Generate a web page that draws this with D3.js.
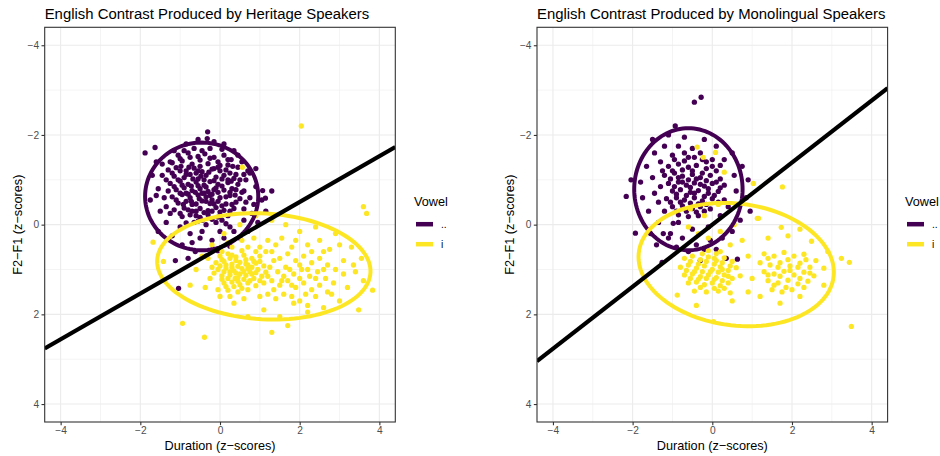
<!DOCTYPE html>
<html><head><meta charset="utf-8">
<script src="https://cdn.jsdelivr.net/npm/d3@7"></script>
<style>body{margin:0;background:#fff}svg{display:block}text{font-family:"Liberation Sans",Arial,sans-serif}</style>
</head><body><svg id="c" width="940" height="456"></svg>
<script>
// ---------- DATA ----------
const titles = ["English Contrast Produced by Heritage Speakers","English Contrast Produced by Monolingual Speakers"];
const vowels = ["..","i"];
const vowelColors = ["#440154","#FDE725"];
const xTicks = [-4,-2,0,2,4];
const yTicks = [-4,-2,0,2,4];
const minorTicks = [-3,-1,1,3];
const xLabel = "Duration (z\u2212scores)";
const yLabel = "F2\u2212F1 (z\u2212scores)";

// Heritage, vowel ".."
const heritageA = [[-0.31,-2.07],[-0.32,-1.92],[-1.88,-1.6],[-1.63,-1.72],[-1.45,-1.35],[-1.7,-1.1],[-1.55,-0.8],[-1.75,-0.55],[-1.5,-0.3],[-1.35,-0.05],[-1.2,0.25],[-0.95,0.45],[-1.12,0.8],[-1.04,1.42],[-0.62,0.6],[-0.35,0.7],[-0.05,0.58],[0.25,0.48],[0.5,0.3],[0.7,0.15],[0.95,-0.05],[1.15,-0.3],[1.05,-0.55],[0.9,-0.85],[0.75,-1.15],[0.55,-1.4],[0.35,-1.65],[0.1,-1.8],[-0.15,-1.85],[-0.55,-1.9],[-0.85,-1.8],[-1.15,-1.65],[0.32,-1.3],[0.65,-1.0],[0.85,-0.45],[0.6,-0.1],[0.35,0.15],[0.1,0.3],[-0.2,0.35],[-0.5,0.3],[-0.75,0.2],[-1.0,0.05],[-1.25,-0.25],[-1.4,-0.6],[-1.35,-1.0],[-1.25,-1.4],[1.3,-0.75],[0.6,-0.75],[-0.8,0.75],[-1.55,0.15],[0.9,-1.25],[1.07,-0.76],[1.14,-0.59],
[-1.05,-1.55],[-0.8,-1.6],[-0.55,-1.52],[-0.38,-1.58],[-0.15,-1.5],[0.1,-1.55],[0.28,-1.45],
[-1.2,-1.38],[-0.95,-1.42],[-0.7,-1.35],[-0.5,-1.44],[-0.3,-1.36],[-0.05,-1.4],[0.2,-1.33],[0.45,-1.28],
[-1.3,-1.22],[-1.1,-1.27],[-0.85,-1.2],[-0.65,-1.26],[-0.45,-1.18],[-0.2,-1.24],[0.0,-1.2],[0.25,-1.15],
[-1.15,-1.08],[-0.9,-1.05],[-0.75,-1.12],[-0.55,-1.02],[-0.35,-1.1],[-0.1,-1.06],[0.1,-1.1],[0.35,-1.03],[0.6,-1.12],
[-1.25,-0.92],[-1.0,-0.97],[-0.8,-0.9],[-0.6,-0.95],[-0.4,-0.88],[-0.25,-0.96],[-0.05,-0.9],[0.2,-0.94],[0.45,-0.9],
[-1.1,-0.78],[-0.9,-0.82],[-0.7,-0.76],[-0.5,-0.8],[-0.3,-0.74],[-0.1,-0.82],[0.1,-0.77],[0.3,-0.8],[0.55,-0.72],
[-1.2,-0.62],[-0.95,-0.67],[-0.75,-0.6],[-0.55,-0.66],[-0.35,-0.62],[-0.2,-0.68],[0.0,-0.6],[0.25,-0.65],[0.5,-0.58],
[-1.05,-0.48],[-0.85,-0.52],[-0.6,-0.46],[-0.45,-0.53],[-0.25,-0.47],[-0.05,-0.52],[0.15,-0.46],[0.4,-0.5],
[-1.15,-0.33],[-0.9,-0.37],[-0.7,-0.3],[-0.5,-0.36],[-0.3,-0.31],[-0.1,-0.38],[0.1,-0.32],[0.35,-0.36],
[-0.95,-0.18],[-0.75,-0.22],[-0.5,-0.16],[-0.3,-0.22],[-0.05,-0.17],[0.2,-0.2],
[-0.85,-0.04],[-0.55,-0.08],[-0.35,0.0],[-0.1,-0.05],[0.15,-0.02],
[-0.65,-1.7],[-0.25,-1.7],[0.05,-1.68],[-1.45,-1.1],[-1.0,-1.2],[-0.6,-1.15],[-0.45,-0.7],[-0.85,-0.7],[-0.15,-1.25],[-0.4,-1.0],[-0.7,-0.45],[0.2,-1.0],[-0.2,-0.55],[-0.6,-0.2],[0.6,-0.35],[0.75,-0.6],[-0.45,0.15],[-0.7,0.4],[0.0,0.15],[0.25,0.05],
[-1.0,-1.47],[-0.75,-1.5],[-0.5,-1.3],[-0.25,-1.48],[0.0,-1.32],[0.2,-1.45],
[-1.2,-1.15],[-0.98,-1.3],[-0.78,-1.28],[-0.55,-1.2],[-0.28,-1.17],[-0.05,-1.28],[0.15,-1.22],[0.4,-1.12],
[-1.05,-1.0],[-0.85,-1.12],[-0.68,-1.02],[-0.48,-1.08],[-0.15,-0.98],[0.05,-1.02],[0.28,-0.97],[0.5,-1.0],
[-1.15,-0.85],[-0.95,-0.88],[-0.72,-0.86],[-0.55,-0.87],[-0.35,-0.84],[-0.15,-0.78],[0.05,-0.86],[0.25,-0.72],[0.4,-0.78],
[-1.0,-0.7],[-0.8,-0.68],[-0.62,-0.72],[-0.4,-0.7],[-0.25,-0.65],[-0.05,-0.72],[0.15,-0.62],[0.38,-0.66],
[-1.1,-0.55],[-0.92,-0.45],[-0.72,-0.52],[-0.52,-0.58],[-0.35,-0.52],[-0.15,-0.46],[0.05,-0.42],[0.3,-0.45],
[-1.0,-0.25],[-0.8,-0.33],[-0.6,-0.3],[-0.4,-0.27],[-0.2,-0.3],[0.0,-0.28],[0.25,-0.3],
[-0.65,-0.05],[-0.45,-0.1],[-0.2,-0.12],[0.05,-0.1],
[-1.3,-0.75],[-1.35,-0.4],[-0.9,-1.65],[-0.45,-1.65],[0.45,-1.55],[0.7,-1.2],[0.65,-0.5],[0.8,-0.25],[-1.6,-1.4],[-1.6,-0.65]];

// Heritage, vowel "i"
const heritageI = [[2.04,-2.2],[-0.39,2.51],[3.6,-0.4],[3.68,-0.25],[3.83,1.46],[3.48,1.9],[1.7,2.25],[-0.94,2.2],[-1.68,0.39],[-1.42,0.82],[-0.75,1.35],[-0.37,1.4],[-0.6,1.0],[-0.45,0.7],[-0.2,0.45],[0.1,0.2],[0.5,0.0],[0.9,-0.2],[1.3,-0.1],[1.65,0.0],[2.0,0.15],[2.4,0.05],[2.9,0.2],[3.3,0.5],[3.55,0.75],[3.4,1.05],[3.6,1.25],[3.2,1.4],[3.0,1.7],[2.6,1.85],[2.2,1.95],[1.85,1.75],[1.5,2.05],[1.1,1.9],[0.7,2.05],[0.35,1.75],[0.0,1.6],[-0.25,1.2],[1.3,2.4],[2.8,1.55],[3.1,0.8],[2.75,0.55],[2.5,0.35],[2.2,0.45],[1.9,0.35],[1.55,0.3],[1.2,0.35],[0.85,0.3],[0.55,0.35],[0.3,0.5],[0.05,0.6],[0.56,-1.28],
[0.0,0.7],[0.2,0.65],[0.4,0.72],[0.6,0.68],[0.8,0.75],[1.0,0.7],
[-0.1,0.85],[0.1,0.82],[0.3,0.88],[0.5,0.84],[0.7,0.9],[0.9,0.86],[1.1,0.92],
[-0.05,1.0],[0.15,0.97],[0.35,1.03],[0.55,0.98],[0.75,1.05],[0.95,1.0],[1.15,1.06],
[0.05,1.14],[0.25,1.12],[0.45,1.18],[0.65,1.13],[0.85,1.2],[1.05,1.15],
[0.1,1.3],[0.3,1.28],[0.5,1.34],[0.7,1.3],[0.9,1.36],
[0.2,1.46],[0.45,1.5],[0.7,1.45],
[1.3,0.6],[1.5,0.75],[1.7,0.65],[1.9,0.8],[2.1,0.7],[2.3,0.85],[2.5,0.75],[2.7,0.9],[2.9,1.0],[3.1,1.1],
[1.25,0.95],[1.45,1.05],[1.65,0.95],[1.85,1.1],[2.05,1.0],[2.25,1.15],[2.45,1.05],[2.65,1.2],[2.85,1.3],
[1.3,1.25],[1.5,1.35],[1.7,1.25],[1.9,1.4],[2.1,1.3],[2.3,1.45],[2.5,1.35],[2.7,1.5],
[1.2,1.55],[1.4,1.65],[1.6,1.55],[1.8,1.6],[2.0,1.7],[2.4,1.6],
[1.4,0.45],[1.8,0.5],[2.3,0.6],[2.6,0.6],[2.0,1.2],[1.1,1.3],[1.0,1.6],[0.6,1.65],[0.25,1.6],[-0.2,0.95],[-0.3,0.75],[0.2,0.4],[0.7,0.5],[1.0,0.5],[3.0,0.45],[3.35,0.9],[2.2,1.8],
[0.1,1.05],[0.3,0.95],[0.5,1.1],[0.2,1.2],[0.4,0.8],[0.6,1.22],[0.8,0.95],[0.0,0.92],[0.35,1.38],[0.65,0.78],
[0.05,0.78],[0.25,0.75],[0.45,0.93],[0.65,0.88],[0.85,0.82],[-0.15,1.08],[0.05,1.22],[0.25,1.05],[0.45,1.26],[0.6,1.05],[0.8,1.1],[1.0,0.82],[1.0,1.25],[0.15,1.38],[0.4,1.08],[0.75,1.25],[0.3,0.68],[0.55,0.58],[-0.05,1.45],[0.55,1.42],[0.15,0.9],[0.38,1.2],[0.7,0.98],[0.9,1.07],[1.2,1.15],[1.35,0.8],[1.6,1.15],[1.75,1.0],[2.0,0.9],[2.2,1.0],[2.4,1.2],[2.6,1.0],[1.55,1.25],[1.8,1.35],[2.15,1.55],[1.35,1.45],[0.9,0.6],[1.15,0.6]];

// Monolingual, vowel ".."
const monoA = [[-0.28,-2.84],[-0.45,-2.73],[-0.93,-2.2],[-2.16,-0.63],[-2.04,-1.0],[-1.26,0.84],[-0.3,0.8],[0.63,0.77],[-1.93,0.19],[-1.23,0.2],[-0.98,-0.03],
[-1.5,-1.9],[-1.1,-2.0],[-0.7,-1.95],[-0.2,-1.9],[0.1,-1.75],[0.5,-1.6],[0.75,-1.3],[0.9,-1.0],[0.85,-0.6],[0.95,-0.3],[0.7,-0.1],[0.5,0.15],[0.25,0.3],[-0.05,0.35],[-0.4,0.45],[-0.75,0.3],[-1.05,0.2],[-1.35,-0.05],[-1.6,-0.3],[-1.75,-0.6],[-1.8,-0.95],[-1.65,-1.3],[-1.45,-1.6],[-1.2,-1.75],[-0.85,-1.75],[-0.5,-1.7],[0.3,-1.45],[0.55,-1.1],[0.6,-0.75],[0.4,-0.4],[0.2,-0.2],[-0.1,0.05],[-0.5,0.1],[-0.85,-0.05],[-1.2,-0.3],[-1.45,-0.7],[-1.5,-1.05],[-1.3,-1.4],[-1.0,-1.55],[-0.6,-1.5],[-0.3,-1.6],[0.0,-1.45],
[-1.1,-1.3],[-0.85,-1.35],[-0.6,-1.28],[-0.4,-1.32],[-0.15,-1.25],[0.1,-1.2],
[-1.2,-1.1],[-0.95,-1.15],[-0.75,-1.08],[-0.5,-1.12],[-0.3,-1.05],[-0.05,-1.1],[0.2,-1.02],
[-1.1,-0.92],[-0.85,-0.95],[-0.65,-0.88],[-0.45,-0.93],[-0.2,-0.86],[0.0,-0.92],[0.3,-0.88],
[-1.0,-0.75],[-0.8,-0.78],[-0.55,-0.72],[-0.35,-0.76],[-0.1,-0.7],[0.15,-0.74],
[-1.15,-0.58],[-0.9,-0.6],[-0.7,-0.55],[-0.45,-0.6],[-0.25,-0.53],[0.0,-0.58],[0.3,-0.55],
[-1.0,-0.4],[-0.75,-0.42],[-0.5,-0.36],[-0.3,-0.4],[-0.05,-0.35],
[-0.85,-0.22],[-0.6,-0.18],[-0.35,-0.2],[-0.95,-1.45],[-0.7,-1.6],[-0.25,-1.45],
[-1.1,0.3],[-0.9,0.5],[-0.6,0.6],[-1.55,0.2],[-1.4,0.45],[-0.2,0.55],[0.1,0.55],[0.35,0.75],
[-1.0,-1.2],[-0.75,-1.22],[-0.5,-1.2],[-0.25,-1.15],[0.0,-1.3],[-1.05,-1.02],[-0.85,-1.05],[-0.6,-1.0],[-0.4,-1.02],[-0.15,-0.98],[0.1,-0.95],[-0.95,-0.85],[-0.75,-0.95],[-0.55,-0.83],[-0.3,-0.9],[-0.1,-0.8],[0.2,-0.82],[-0.9,-0.68],[-0.65,-0.65],[-0.45,-0.7],[-0.2,-0.63],[0.05,-0.65],[-1.05,-0.5],[-0.8,-0.5],[-0.55,-0.48],[-0.35,-0.46],[-0.15,-0.45],[0.15,-0.5],[-0.9,-0.3],[-0.65,-0.3],[-0.4,-0.28],[-0.2,-0.3],[-0.7,-1.42],[-0.45,-1.5],[-0.15,-1.4],[0.2,-1.32],[-1.3,-0.85],[-1.35,-0.5],[-1.25,-1.2]];

// Monolingual, vowel "i"
const monoI = [[3.49,2.27],[3.24,0.75],[3.44,0.84],[-0.88,1.57],[0.03,2.16],[1.16,-0.14],[1.73,0.06],[2.49,0.37],[-0.38,-1.73],[0.08,-1.61],[-0.23,-1.5],[0.3,-1.17],[1.03,-0.92],[1.76,-0.84],[1.13,-0.14],
[-0.6,0.05],[-0.35,0.2],[-0.1,0.3],[0.2,0.15],[0.45,0.45],[-0.55,-0.35],[-0.2,-0.2],[0.15,-0.45],[0.55,0.0],[0.75,0.35],
[-0.7,0.75],[-0.5,0.7],[-0.3,0.78],[-0.1,0.72],[0.1,0.8],[0.3,0.74],[0.5,0.82],
[-0.8,0.95],[-0.6,0.9],[-0.4,0.97],[-0.2,0.92],[0.0,1.0],[0.2,0.94],[0.4,1.02],[0.6,0.96],
[-0.7,1.12],[-0.5,1.1],[-0.3,1.16],[-0.1,1.12],[0.1,1.18],[0.3,1.12],[0.5,1.2],[0.7,1.14],
[-0.6,1.3],[-0.4,1.28],[-0.2,1.34],[0.0,1.3],[0.2,1.36],[0.4,1.3],
[-0.45,1.48],[-0.15,1.5],[0.15,1.48],[0.45,1.52],
[-0.1,0.58],[0.2,0.6],[0.05,0.88],[-0.25,1.05],[0.15,1.06],
[1.3,0.65],[1.55,0.7],[1.8,0.62],[2.05,0.7],[2.3,0.66],
[1.2,0.85],[1.45,0.9],[1.7,0.85],[1.95,0.92],[2.2,0.86],[2.45,0.95],
[1.3,1.05],[1.55,1.1],[1.8,1.04],[2.05,1.12],[2.3,1.06],[2.55,1.14],
[1.4,1.25],[1.65,1.3],[1.9,1.24],[2.15,1.32],[2.4,1.26],
[1.5,1.45],[1.75,1.5],[2.0,1.45],[2.6,0.8],
[1.0,1.2],[0.9,1.5],[1.2,1.6],[1.7,1.75],[2.2,1.6],[2.8,1.35],[2.9,0.6],[0.5,1.7],[-0.4,1.8],[1.4,0.3],[1.9,0.25],[2.2,0.1],[0.9,0.7],[2.8,0.97],
[-0.55,0.82],[-0.35,0.88],[-0.15,0.82],[0.05,0.75],[0.25,0.85],[0.45,0.92],[-0.65,1.02],[-0.45,1.05],[-0.05,1.05],[0.25,1.0],[0.4,1.15],[-0.55,1.2],[-0.35,1.22],[-0.15,1.2],[0.05,1.22],[0.25,1.25],[-0.3,1.4],[0.05,1.42],[0.3,1.42],[-0.25,0.65],[0.1,0.65],[1.4,0.75],[1.65,0.95],[1.9,0.78],[2.15,0.95],[2.35,0.78],[1.4,1.12],[1.7,1.15],[1.95,1.02],[2.2,1.2],[2.45,1.08],[1.55,1.35],[1.85,1.4],[2.3,1.4]];

// ellipses: [cx, cy, rx, ry, angle(rad)] in data units, per vowel
const heritageEllipses = [[-0.46,-0.63,1.42,1.2,0.0],[1.1,0.93,2.68,1.18,0.05]];
const monoEllipses = [[-0.6,-0.79,1.36,1.36,0.0],[0.6,0.89,2.46,1.36,0.1]];
// boundary lines: [intercept, slope]
const heritageLine = [0.515,-0.51];
const monoLine = [0.0,-0.692];

// ---------- DRAW ----------
const svg = d3.select("#c");
const panels = [
  {left:44.7,right:395.3,top:27.3,bottom:422,pts:[heritageA,heritageI],ell:heritageEllipses,line:heritageLine,title:titles[0],legendX:414},
  {left:537,right:887.6,top:27.3,bottom:422,pts:[monoA,monoI],ell:monoEllipses,line:monoLine,title:titles[1],legendX:905}
];
const fmt = d => d<0 ? "\u2212"+Math.abs(d) : String(d);

panels.forEach((p,pi)=>{
  const x = d3.scaleLinear().domain([-4.4,4.4]).range([p.left,p.right]);
  const y = d3.scaleLinear().domain([-4.4,4.4]).range([p.top,p.bottom]);
  const g = svg.append("g");
  const cid = "clip"+pi;
  svg.append("clipPath").attr("id",cid).append("rect")
    .attr("x",p.left).attr("y",p.top).attr("width",p.right-p.left).attr("height",p.bottom-p.top);
  // grid
  const grid = g.append("g");
  minorTicks.forEach(t=>{
    grid.append("line").attr("x1",x(t)).attr("x2",x(t)).attr("y1",p.top).attr("y2",p.bottom).attr("stroke","#ebebeb").attr("stroke-width",0.55);
    grid.append("line").attr("y1",y(t)).attr("y2",y(t)).attr("x1",p.left).attr("x2",p.right).attr("stroke","#ebebeb").attr("stroke-width",0.55);
  });
  xTicks.forEach(t=>{
    grid.append("line").attr("x1",x(t)).attr("x2",x(t)).attr("y1",p.top).attr("y2",p.bottom).attr("stroke","#ebebeb").attr("stroke-width",1.1);
  });
  yTicks.forEach(t=>{
    grid.append("line").attr("y1",y(t)).attr("y2",y(t)).attr("x1",p.left).attr("x2",p.right).attr("stroke","#ebebeb").attr("stroke-width",1.1);
  });
  const inner = g.append("g").attr("clip-path",`url(#${cid})`);
  // points
  p.pts.forEach((arr,vi)=>{
    inner.append("g").selectAll("circle").data(arr).join("circle")
      .attr("cx",d=>x(d[0])).attr("cy",d=>y(d[1])).attr("r",2.65).attr("fill",vowelColors[vi]);
  });
  // ellipses
  p.ell.forEach((e,vi)=>{
    const [cx,cy,rx,ry,a] = e;
    const ts = d3.range(0,361,3).map(d=>d*Math.PI/180);
    const pts = ts.map(t=>[cx+rx*Math.cos(t)*Math.cos(a)-ry*Math.sin(t)*Math.sin(a), cy+rx*Math.cos(t)*Math.sin(a)+ry*Math.sin(t)*Math.cos(a)]);
    inner.append("path").attr("d",d3.line().x(d=>x(d[0])).y(d=>y(d[1])).curve(d3.curveLinearClosed)(pts))
      .attr("fill","none").attr("stroke",vowelColors[vi]).attr("stroke-width",4);
  });
  // line
  const [b0,b1] = p.line;
  inner.append("line").attr("x1",x(-4.4)).attr("y1",y(b0+b1*-4.4)).attr("x2",x(4.4)).attr("y2",y(b0+b1*4.4))
    .attr("stroke","#000").attr("stroke-width",4.2);
  // border
  g.append("rect").attr("x",p.left).attr("y",p.top).attr("width",p.right-p.left).attr("height",p.bottom-p.top)
    .attr("fill","none").attr("stroke","#333").attr("stroke-width",1.1);
  // axes
  const ax = g.append("g").attr("transform",`translate(0,${p.bottom})`)
    .call(d3.axisBottom(x).tickValues(xTicks).tickSize(3.2).tickSizeOuter(0).tickFormat(fmt));
  const ay = g.append("g").attr("transform",`translate(${p.left},0)`)
    .call(d3.axisLeft(y).tickValues(yTicks).tickSize(3.2).tickSizeOuter(0).tickFormat(fmt));
  [ax,ay].forEach(a=>{
    a.select(".domain").remove();
    a.selectAll(".tick line").attr("stroke","#333").attr("stroke-width",1.1);
    a.selectAll(".tick text").attr("fill","#4d4d4d").style("font-size","10.2px").style("font-family","Liberation Sans, Arial, sans-serif");
  });
  ax.selectAll(".tick text").attr("y",5).attr("dy","0.71em");
  ay.selectAll(".tick text").attr("x",-5.5);
  // titles
  g.append("text").attr("x",p.left).attr("y",18.5).text(p.title).style("font-size","14.9px").attr("fill","#000");
  g.append("text").attr("x",(p.left+p.right)/2).attr("y",450).attr("text-anchor","middle").text(xLabel).style("font-size","12.7px");
  g.append("text").attr("transform",`translate(${p.left-23},${(p.top+p.bottom)/2}) rotate(-90)`).attr("text-anchor","middle").text(yLabel).style("font-size","12.7px");
  // legend
  const lg = g.append("g").attr("transform",`translate(${p.legendX},0)`);
  lg.append("text").attr("x",0).attr("y",206).text("Vowel").style("font-size","12.7px");
  vowels.forEach((v,vi)=>{
    const yy = 224.2 + vi*20;
    lg.append("line").attr("x1",2).attr("x2",19).attr("y1",yy).attr("y2",yy).attr("stroke",vowelColors[vi]).attr("stroke-width",4.5);
    lg.append("circle").attr("cx",10.5).attr("cy",yy).attr("r",1.2).attr("fill",vowelColors[vi]);
    lg.append("text").attr("x",27).attr("y",yy+3.6).text(v).style("font-size","10.2px").attr("fill","#000");
  });
});
</script></body></html>
